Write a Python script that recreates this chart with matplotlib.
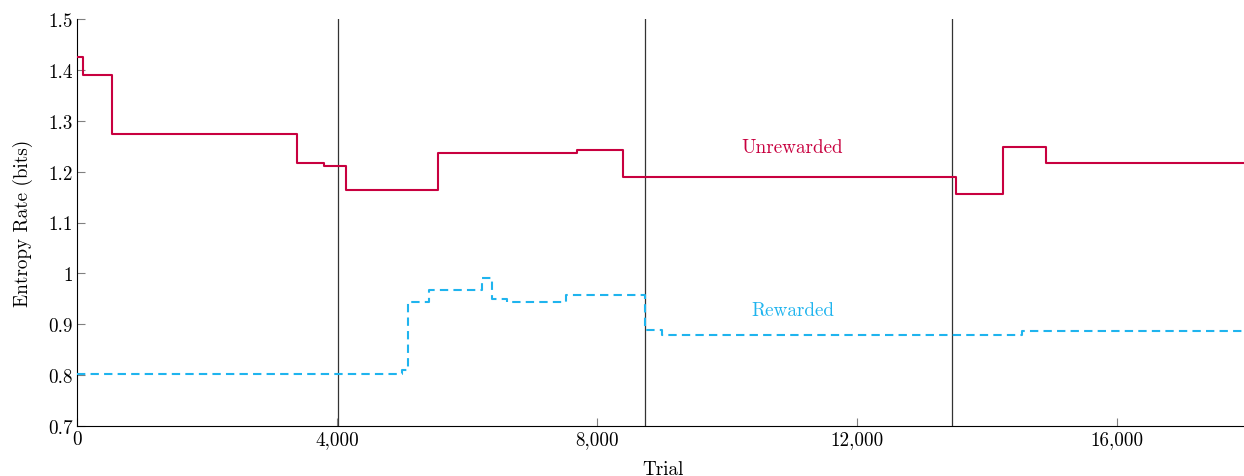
import matplotlib
matplotlib.use("Agg")
import matplotlib.pyplot as plt
from matplotlib.ticker import FuncFormatter

plt.rcParams['font.family'] = ['cmr10', 'DejaVu Serif']
plt.rcParams['axes.formatter.use_mathtext'] = True

# Unrewarded (step starts)
unrew_x = [0, 90, 543, 3390, 3800, 4138, 5549, 7687, 8395, 13523, 14251, 14908, 18000]
unrew_y = [1.425, 1.39, 1.273, 1.217, 1.212, 1.164, 1.237, 1.242, 1.190, 1.156, 1.249, 1.216, 1.216]

# Rewarded (step starts)
rew_x = [0, 4995, 5098, 5415, 6226, 6390, 6610, 7518, 8738, 8995, 14533, 18000]
rew_y = [0.802, 0.810, 0.943, 0.967, 0.990, 0.950, 0.943, 0.958, 0.889, 0.879, 0.887, 0.887]

vlines_x = [4020, 8740, 13460]

x_ticks = [0, 4000, 8000, 12000, 16000]
y_ticks = [0.7, 0.8, 0.9, 1.0, 1.1, 1.2, 1.3, 1.4, 1.5]

red = '#c8003f'
blue = '#1fb4ee'
fs = 13.8

fig = plt.figure(figsize=(12.44, 4.77), dpi=100)
ax = fig.add_axes([77/1244, 1-427/477, 1170/1244, 407/477])

for vx in vlines_x:
    ax.axvline(vx, color='#333333', lw=0.9, zorder=1)

ax.step(unrew_x, unrew_y, where='post', color=red, lw=1.5, zorder=3)
ax.step(rew_x, rew_y, where='post', color=blue, lw=1.5, ls=(0, (4, 2.5)), zorder=3)

ax.text(11010, 1.248, 'Unrewarded', color=red, ha='center', va='center', fontsize=fs)
ax.text(11010, 0.927, 'Rewarded', color=blue, ha='center', va='center', fontsize=fs)

ax.set_xlim(0, 18000)
ax.set_ylim(0.7, 1.5)
ax.set_xticks(x_ticks)
ax.set_yticks(y_ticks)
ax.xaxis.set_major_formatter(FuncFormatter(lambda v, p: f"{int(v):,}"))
ax.yaxis.set_major_formatter(FuncFormatter(lambda v, p: ('%g' % round(v, 2))))
ax.spines['top'].set_visible(False)
ax.spines['right'].set_visible(False)
ax.tick_params(direction='in', length=6, color='#808080', labelsize=fs, pad=3)
ax.set_xlabel('Trial', fontsize=fs)
ax.set_ylabel('Entropy Rate (bits)', fontsize=fs)
ax.xaxis.set_label_coords(0.5 * 1170 / 1170 * (663 - 77) / 585, (427 - 470) / 407)
ax.yaxis.set_label_coords((23 - 77) / 1170, 0.5)
ax.xaxis.label.set_va('center')
ax.yaxis.label.set_va('center')

fig.savefig('out.png', dpi=100)
